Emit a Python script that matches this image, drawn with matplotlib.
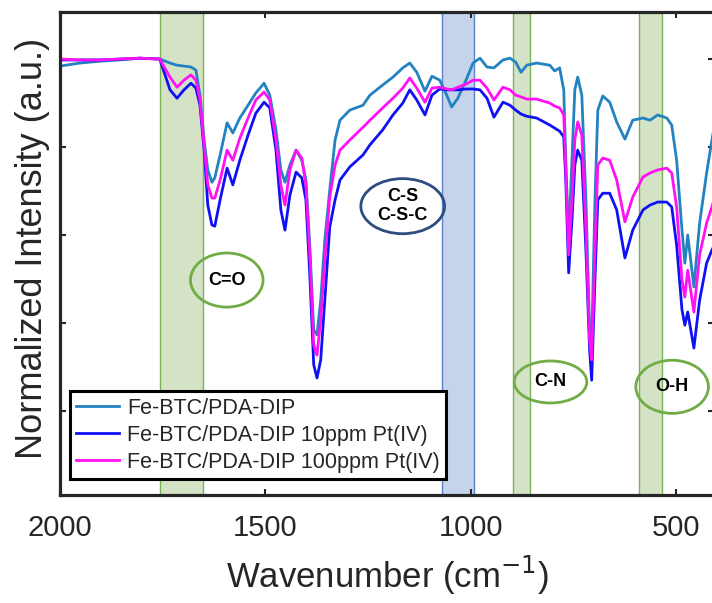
import matplotlib
matplotlib.use('Agg')
import matplotlib.pyplot as plt
from matplotlib.patches import Ellipse

# ---------------- data ----------------
wavenumber = [2000, 1951, 1903, 1854, 1805, 1757, 1732, 1715, 1698, 1681,
              1669, 1659, 1649, 1640, 1630, 1623, 1610, 1593, 1579, 1562,
              1542, 1523, 1503, 1489, 1474, 1462, 1452, 1440, 1425, 1411,
              1401, 1391, 1382, 1374, 1365, 1355, 1343, 1330, 1318, 1294,
              1262, 1245, 1214, 1189, 1165, 1148, 1131, 1111, 1094, 1075,
              1058, 1046, 1031, 1011, 994, 977, 960, 943, 921, 904,
              890, 877, 863, 839, 807, 795, 783, 773, 768, 761,
              753, 746, 739, 729, 719, 710, 705, 697, 690, 678,
              661, 644, 624, 605, 580, 563, 544, 522, 510, 498,
              485, 478, 471, 456, 442, 425, 412, 400]

fe_btc = [0.984, 0.991, 0.995, 0.998, 1.002, 1.000, 0.991, 0.986, 0.984, 0.982,
          0.975, 0.918, 0.816, 0.748, 0.720, 0.730, 0.782, 0.855, 0.832, 0.866,
          0.895, 0.923, 0.945, 0.918, 0.839, 0.748, 0.720, 0.759, 0.793, 0.770,
          0.725, 0.566, 0.384, 0.373, 0.452, 0.589, 0.702, 0.816, 0.861, 0.884,
          0.895, 0.918, 0.941, 0.959, 0.980, 0.991, 0.970, 0.927, 0.961, 0.952,
          0.918, 0.891, 0.911, 0.952, 0.991, 1.002, 0.982, 0.980, 0.998, 1.002,
          0.993, 0.970, 0.986, 0.991, 0.986, 0.973, 0.980, 0.930, 0.770, 0.589,
          0.770, 0.930, 0.959, 0.918, 0.680, 0.384, 0.350, 0.680, 0.884, 0.916,
          0.902, 0.857, 0.818, 0.861, 0.866, 0.861, 0.873, 0.866, 0.850, 0.770,
          0.611, 0.536, 0.600, 0.482, 0.627, 0.741, 0.816, 0.884]

fe_btc_10ppm = [0.998, 0.998, 0.998, 1.000, 1.002, 1.000, 0.930, 0.911, 0.930, 0.945,
                0.934, 0.895, 0.793, 0.668, 0.623, 0.620, 0.680, 0.752, 0.714, 0.770,
                0.827, 0.877, 0.902, 0.889, 0.793, 0.657, 0.611, 0.691, 0.743, 0.730,
                0.680, 0.498, 0.305, 0.275, 0.316, 0.452, 0.618, 0.680, 0.725, 0.755,
                0.782, 0.805, 0.839, 0.873, 0.900, 0.930, 0.907, 0.873, 0.918, 0.932,
                0.930, 0.930, 0.930, 0.932, 0.932, 0.930, 0.911, 0.868, 0.902, 0.895,
                0.884, 0.875, 0.870, 0.866, 0.850, 0.843, 0.836, 0.823, 0.725, 0.514,
                0.634, 0.759, 0.793, 0.770, 0.566, 0.339, 0.270, 0.498, 0.680, 0.695,
                0.695, 0.657, 0.548, 0.611, 0.657, 0.668, 0.675, 0.675, 0.664, 0.577,
                0.430, 0.395, 0.425, 0.343, 0.452, 0.536, 0.566, 0.589]

fe_btc_100ppm = [1.000, 0.998, 0.998, 1.000, 1.002, 1.000, 0.959, 0.936, 0.952, 0.964,
                 0.952, 0.907, 0.805, 0.714, 0.684, 0.684, 0.725, 0.793, 0.770, 0.820,
                 0.866, 0.907, 0.925, 0.907, 0.816, 0.714, 0.668, 0.748, 0.793, 0.775,
                 0.714, 0.543, 0.350, 0.327, 0.407, 0.543, 0.686, 0.759, 0.793, 0.816,
                 0.845, 0.861, 0.889, 0.911, 0.934, 0.957, 0.934, 0.902, 0.934, 0.936,
                 0.932, 0.930, 0.936, 0.943, 0.952, 0.952, 0.934, 0.907, 0.936, 0.930,
                 0.918, 0.914, 0.909, 0.909, 0.900, 0.893, 0.889, 0.873, 0.748, 0.555,
                 0.680, 0.816, 0.857, 0.827, 0.611, 0.361, 0.316, 0.566, 0.759, 0.775,
                 0.770, 0.725, 0.630, 0.686, 0.732, 0.741, 0.748, 0.752, 0.741, 0.664,
                 0.498, 0.459, 0.520, 0.425, 0.555, 0.627, 0.664, 0.702]

series_labels = ['Fe-BTC/PDA-DIP',
                 'Fe-BTC/PDA-DIP 10ppm Pt(IV)',
                 'Fe-BTC/PDA-DIP 100ppm Pt(IV)']
x_ticks = [2000, 1500, 1000, 500]
y_ticks = [0.2, 0.4, 0.6, 0.8, 1.0]
green_bands = [(1652, 1756), (855, 897), (534, 590)]
blue_bands = [(992, 1070)]
band_labels = ['C=O', 'C-S\nC-S-C', 'C-N', 'O-H']

# ---------------- styling ----------------
plt.rcParams['font.family'] = ['Liberation Sans', 'DejaVu Sans']
dark = '#262626'

fig = plt.figure(figsize=(7.12, 6.03), dpi=100)
ax = fig.add_axes([60 / 712, 108 / 603, 654 / 712, 483 / 603])

for lo, hi in green_bands:
    ax.axvspan(lo, hi, facecolor='#D4E3C6', edgecolor='#7AB352', lw=1.0, zorder=0.5)
for lo, hi in blue_bands:
    ax.axvspan(lo, hi, facecolor='#C5D3EB', edgecolor='#5A82C8', lw=1.0, zorder=0.5)

ax.plot(wavenumber, fe_btc, color='#2382C0', lw=2.0, label=series_labels[0], zorder=2)
ax.plot(wavenumber, fe_btc_10ppm, color='#1010F5', lw=2.0, label=series_labels[1], zorder=2.1)
ax.plot(wavenumber, fe_btc_100ppm, color='#FF10F5', lw=2.0, label=series_labels[2], zorder=2.2)

ax.set_xlim(2000, 407)
ax.set_ylim(0.009, 1.107)
ax.set_xticks(x_ticks)
ax.set_yticks(y_ticks)
ax.tick_params(direction='in', length=4.5, width=1.5, top=True, right=True,
               labelleft=False, labelsize=21, pad=14, colors=dark)
for s in ax.spines.values():
    s.set_linewidth(2.3)
    s.set_color(dark)
    s.set_zorder(6)

ax.set_xlabel('Wavenumber (cm$^{-1}$)', fontsize=25, color=dark, labelpad=8)
ax.set_ylabel('Normalized Intensity (a.u.)', fontsize=26, color=dark)
ax.yaxis.set_label_coords(-0.016, 0.51)

# annotation ellipses (axes fraction positions)
ell_specs = [((0.255, 0.445), 0.111, 0.112, '#70AD47'),
             ((0.524, 0.598), 0.128, 0.114, '#2E4C7E'),
             ((0.750, 0.234), 0.111, 0.087, '#70AD47'),
             ((0.936, 0.224), 0.111, 0.110, '#70AD47')]
for (c, w, h, col), txt in zip(ell_specs, band_labels):
    ax.add_patch(Ellipse(c, w, h, transform=ax.transAxes, fill=False,
                         edgecolor=col, lw=2.0, zorder=4))
    ax.text(c[0], c[1], txt, transform=ax.transAxes, ha='center', va='center',
            fontsize=13, fontweight='bold', color='black', zorder=4,
            linespacing=1.2)

leg = ax.legend(loc='lower left', bbox_to_anchor=(0.015, 0.033), borderaxespad=0,
                fontsize=15.5, frameon=True, fancybox=False, framealpha=1,
                edgecolor='black', handlelength=2.0, handletextpad=0.35,
                labelspacing=0.28, borderpad=0.3)
leg.get_frame().set_linewidth(2.2)
leg.set_zorder(7)
for t in leg.get_texts():
    t.set_color(dark)

fig.savefig('out.png', dpi=100)
